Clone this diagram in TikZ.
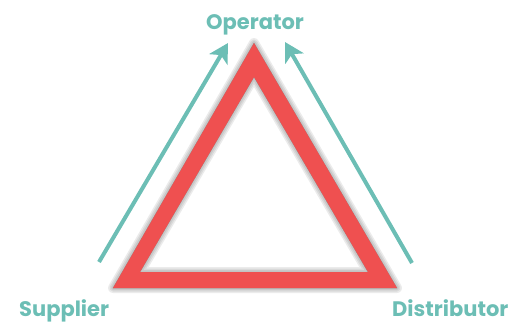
\documentclass[tikz,border=0pt]{standalone}
\usepackage{fontspec}
\setmainfont{Poppins}
\usetikzlibrary{arrows.meta}
\definecolor{tealc}{HTML}{6CBEB5}
\definecolor{redc}{HTML}{EF5050}
\begin{document}
\begin{tikzpicture}[x=1pt,y=-1pt,
  lbl/.style={font=\bfseries\fontsize{21}{21}\selectfont, text=tealc, inner sep=0pt},
  flow/.style={draw=tealc, line width=4pt, -{Stealth[length=19pt,width=21pt,inset=5pt]}},
  shadowlayer/.style={fill=black, draw=black, fill opacity=0.08, draw opacity=0.08, even odd rule, line join=round}]
\useasboundingbox (0,0) rectangle (513,322);
\coordinate (A) at (254,43);
\coordinate (B) at (113,288);
\coordinate (C) at (397,288);
\coordinate (Ai) at (254,77);
\coordinate (Bi) at (140,272);
\coordinate (Ci) at (368,272);
% shadow
\foreach \w in {10,7,4,1}{
  \path[shadowlayer, line width=\w pt, shift={(5,7)}] (A) -- (B) -- (C) -- cycle (Ai) -- (Bi) -- (Ci) -- cycle;
}
% ring
\fill[redc, even odd rule] (A) -- (B) -- (C) -- cycle (Ai) -- (Bi) -- (Ci) -- cycle;
% arrows
\coordinate (l1) at (99,262);
\coordinate (l2) at (228,43);
\coordinate (r1) at (412,263);
\coordinate (r2) at (285,42);
\draw[flow] (l1) -- (l2);
\draw[flow] (r1) -- (r2);
% labels
\node[lbl, anchor=base] (op) at (255,29) {Operator};
\node[lbl, anchor=base west] (sup) at (19,316) {Supplier};
\node[lbl, anchor=base west] (dist) at (392,316) {Distributor};
\end{tikzpicture}
\end{document}
